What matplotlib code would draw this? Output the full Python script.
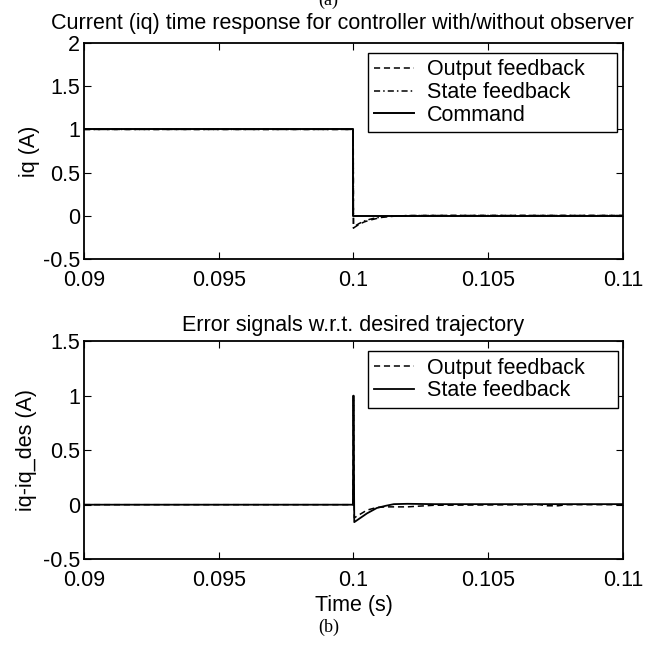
import numpy as np
import matplotlib
matplotlib.use("Agg")
import matplotlib.pyplot as plt

plt.rcParams['font.family'] = ['Liberation Sans', 'DejaVu Sans']

# (a) 電流応答
t_top = [0.09, 0.09999, 0.1, 0.10005, 0.1002, 0.1004, 0.1006, 0.1008, 0.101, 0.1012, 0.1015, 0.102, 0.103, 0.11]
out_fb = [1, 1, -0.14, -0.13, -0.10, -0.07, -0.05, -0.035, -0.02, -0.012, -0.004, 0.003, 0.005, 0.005]
state_fb = [1, 1, -0.14, -0.12, -0.09, -0.06, -0.04, -0.025, -0.015, -0.008, -0.002, 0.003, 0.004, 0.004]
t_cmd = [0.09, 0.1, 0.1, 0.11]
cmd = [1, 1, 0, 0]

# (b) 誤差信号
t_err = [0.09, 0.09998, 0.1, 0.10003, 0.1005, 0.10087, 0.1012, 0.1015, 0.102, 0.103, 0.1069, 0.1072, 0.1076, 0.1079, 0.11]
err_out = [0, 0, 1, -0.12, -0.05, -0.025, -0.02, -0.02, -0.02, -0.005, 0, -0.01, -0.01, 0, 0]
err_state = [0, 0, 1, -0.16, -0.08, -0.03, -0.01, 0.005, 0.008, 0.005, 0.005, 0.005, 0.005, 0.005, 0.005]

xticks = [0.09, 0.095, 0.1, 0.105, 0.11]
xticklabels = ["0.09", "0.095", "0.1", "0.105", "0.11"]

fs = 15.5

fig = plt.figure(figsize=(6.57, 6.51), dpi=100)
ax1 = fig.add_axes([0.128, 0.602, 0.820, 0.332])
ax2 = fig.add_axes([0.128, 0.141, 0.820, 0.335])


def style_axes(ax):
    ax.set_xlim(0.09, 0.11)
    ax.set_xticks(xticks)
    ax.set_xticklabels(xticklabels)
    ax.tick_params(direction='in', top=True, right=True, length=5, width=0.8,
                   labelsize=fs)
    ax.tick_params(axis='y', pad=3)
    ax.tick_params(axis='x', pad=8)
    for s in ax.spines.values():
        s.set_linewidth(1.3)


def add_legend(ax, x0, w, ytop):
    leg = ax.legend(loc='upper left', bbox_to_anchor=(x0, 0, w, ytop), mode='expand',
                    borderaxespad=0, fontsize=fs, fancybox=False, edgecolor='k',
                    framealpha=1, handlelength=1.85, handletextpad=0.6,
                    labelspacing=0.08, borderpad=0.3)
    leg.get_frame().set_linewidth(1.0)
    return leg


ax1.plot(t_top, out_fb, 'k--', lw=1.1, dashes=(4, 2.5), label='Output feedback')
ax1.plot(t_top, state_fb, 'k-.', lw=1.1, dashes=(4, 2, 1, 2), label='State feedback')
ax1.plot(t_cmd, cmd, 'k-', lw=1.4, label='Command')
style_axes(ax1)
ax1.set_ylim(-0.5, 2)
ax1.set_yticks([-0.5, 0, 0.5, 1, 1.5, 2])
ax1.set_yticklabels(["-0.5", "0", "0.5", "1", "1.5", "2"])
ax1.set_ylabel("iq (A)", fontsize=fs, labelpad=2)
ax1.set_title("Current (iq) time response for controller with/without observer",
              fontsize=fs, pad=10, x=0.48)
add_legend(ax1, 0.527, 0.462, 0.954)

ax2.plot(t_err, err_out, 'k--', lw=1.1, dashes=(4, 2.5), label='Output feedback')
ax2.plot(t_err, err_state, 'k-', lw=1.3, label='State feedback')
style_axes(ax2)
ax2.set_ylim(-0.5, 1.5)
ax2.set_yticks([-0.5, 0, 0.5, 1, 1.5])
ax2.set_yticklabels(["-0.5", "0", "0.5", "1", "1.5"])
ax2.set_ylabel("iq-iq_des (A)", fontsize=fs, labelpad=4)
ax2.set_xlabel("Time (s)", fontsize=fs, labelpad=3)
ax2.set_title("Error signals w.r.t. desired trajectory", fontsize=fs, pad=7.5)
add_legend(ax2, 0.527, 0.464, 0.954)

fig.text(0.5, 1.0, "(a)", ha='center', va='center', fontsize=13,
         family='Liberation Serif')
fig.text(0.5, 0.036, "(b)", ha='center', va='center', fontsize=13,
         family='Liberation Serif')

fig.savefig("out.png", dpi=100)
